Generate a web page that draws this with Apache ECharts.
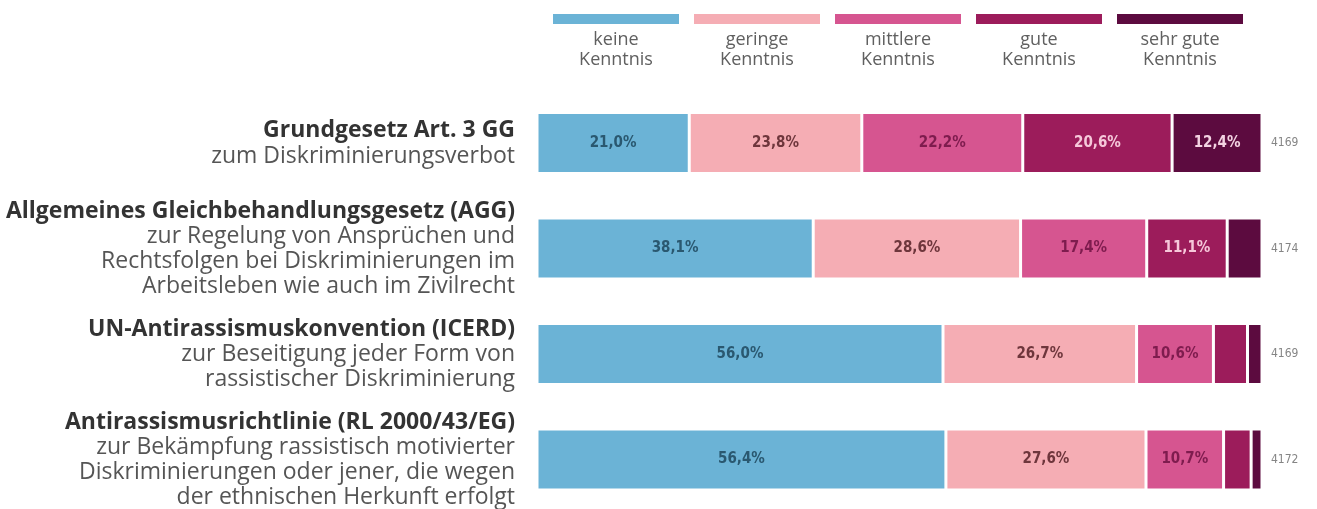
<!DOCTYPE html>
<html>
<head>
<meta charset="utf-8">
<script src="https://cdn.jsdelivr.net/npm/echarts@6/dist/echarts.min.js"></script>
<style>
html,body{margin:0;padding:0;background:#fff;}
#chart{width:1317px;height:509px;}
</style>
</head>
<body>
<div id="chart"></div>
<script>
// ---- data ----
const titles = [
  'Grundgesetz Art. 3 GG',
  'Allgemeines Gleichbehandlungsgesetz (AGG)',
  'UN-Antirassismuskonvention (ICERD)',
  'Antirassismusrichtlinie (RL 2000/43/EG)'
];
const subtitles = [
  ['zum Diskriminierungsverbot'],
  ['zur Regelung von Ansprüchen und', 'Rechtsfolgen bei Diskriminierungen im', 'Arbeitsleben wie auch im Zivilrecht'],
  ['zur Beseitigung jeder Form von', 'rassistischer Diskriminierung'],
  ['zur Bekämpfung rassistisch motivierter', 'Diskriminierungen oder jener, die wegen', 'der ethnischen Herkunft erfolgt']
];
const seriesNames = ['keine Kenntnis', 'geringe Kenntnis', 'mittlere Kenntnis', 'gute Kenntnis', 'sehr gute Kenntnis'];
const keine    = [21.0, 38.1, 56.0, 56.4];
const geringe  = [23.8, 28.6, 26.7, 27.6];
const mittlere = [22.2, 17.4, 10.6, 10.7];
const gute     = [20.6, 11.1, 4.7, 3.8];
const sehrGute = [12.4, 4.8, 2.0, 1.5];
const nValues  = ['4169', '4174', '4169', '4172'];

// ---- styles ----
const colors = ['#6bb3d6', '#f5adb4', '#d65590', '#9c1c5b', '#5c0b3f'];
const labelColors = ['#2a5870', '#6e363c', '#7e1c4e', '#f6c8da', '#f3d3e2'];
const allValues = [keine, geringe, mittlere, gute, sehrGute];
const narrowFont = '"Liberation Sans Narrow", "DejaVu Sans Condensed", "Roboto", sans-serif';

const categories = titles.map((t, i) => t + '\n' + subtitles[i].join('\n'));

const chart = echarts.init(document.getElementById('chart'), null, {renderer: 'canvas'});

const series = allValues.map((vals, k) => ({
  name: seriesNames[k],
  type: 'bar',
  stack: 'total',
  barWidth: 61,
  clip: false,
  data: vals,
  itemStyle: {color: colors[k], borderColor: '#ffffff', borderWidth: 1.5},
  label: {
    show: true,
    position: 'inside',
    color: labelColors[k],
    fontFamily: narrowFont,
    fontWeight: 'bold',
    fontSize: 15,
    formatter: p => p.value >= 10 ? p.value.toFixed(1).replace('.', ',') + '%' : ''
  },
  emphasis: {disabled: true},
  animation: false
}));

const legendGraphics = [];
seriesNames.forEach((name, i) => {
  const x0 = 553 + i * 141;
  legendGraphics.push({
    type: 'rect', left: x0, top: 14,
    shape: {width: 126, height: 10},
    style: {fill: colors[i]}
  });
  const parts = name.split(' ');
  const line1 = parts.slice(0, parts.length - 1).join(' ');
  const line2 = parts[parts.length - 1];
  legendGraphics.push({
    type: 'text', x: x0 + 63, y: 30,
    style: {
      text: line1 + '\n' + line2,
      align: 'center', verticalAlign: 'top',
      font: '18px "Open Sans", sans-serif',
      lineHeight: 20,
      fill: '#606060'
    }
  });
});

chart.setOption({
  animation: false,
  backgroundColor: '#ffffff',
  grid: {left: 537, right: 55, top: 143, bottom: 47, containLabel: false},
  xAxis: {type: 'value', min: 0, max: 100, show: false},
  yAxis: [
    {
      type: 'category', inverse: true, data: categories, boundaryGap: false,
      axisLine: {show: false}, axisTick: {show: false}, splitLine: {show: false},
      axisLabel: {
        margin: 22,
        align: 'right',
        formatter: (val) => {
          const lines = val.split('\n');
          return '{t|' + lines[0] + '}\n' + lines.slice(1).map(l => '{s|' + l + '}').join('\n');
        },
        rich: {
          t: {fontFamily: '"Open Sans", sans-serif', fontWeight: 'bold', fontSize: 23, color: '#333333', lineHeight: 26, align: 'right'},
          s: {fontFamily: '"Open Sans", sans-serif', fontWeight: 'normal', fontSize: 23, color: '#555555', lineHeight: 25, align: 'right'}
        }
      }
    },
    {
      type: 'category', inverse: true, data: nValues, position: 'right', boundaryGap: false,
      axisLine: {show: false}, axisTick: {show: false}, splitLine: {show: false},
      axisLabel: {margin: 9, fontSize: 12, color: '#858585', fontFamily: narrowFont}
    }
  ],
  graphic: legendGraphics,
  series: series
});
</script>
</body>
</html>
